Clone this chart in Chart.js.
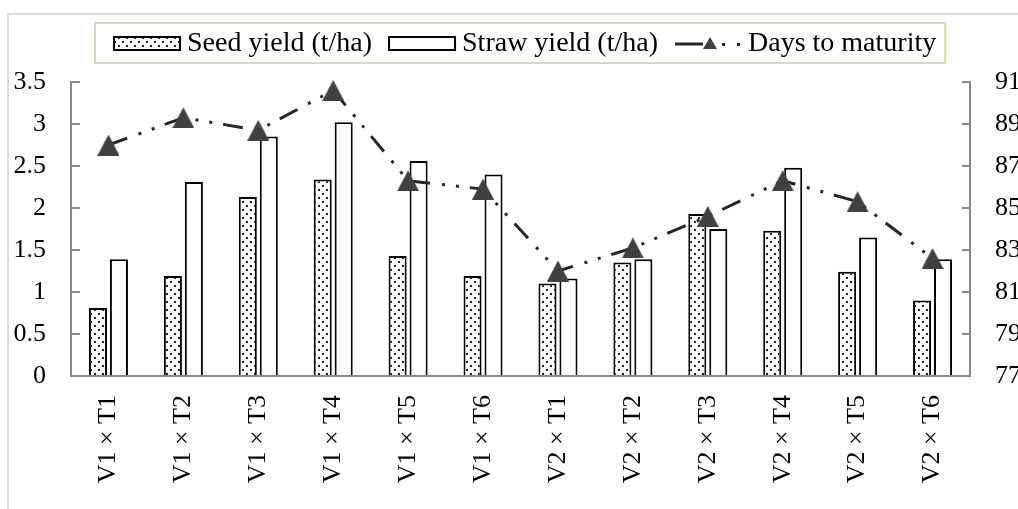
<!DOCTYPE html>
<html>
<head>
<meta charset="utf-8">
<script src="https://cdn.jsdelivr.net/npm/chart.js@4.4.1/dist/chart.umd.min.js"></script>
<style>
  html, body { margin: 0; padding: 0; background: #fff; overflow: hidden; }
  #wrap { position: relative; width: 1018px; height: 509px; overflow: hidden; }
  canvas { position: absolute; left: 0; top: 0; }
</style>
</head>
<body>
<div id="wrap"><canvas id="yieldChart" width="1040" height="509"></canvas></div>
<script>
  // data
  const categories = ['V1 × T1', 'V1 × T2', 'V1 × T3', 'V1 × T4', 'V1 × T5', 'V1 × T6',
                      'V2 × T1', 'V2 × T2', 'V2 × T3', 'V2 × T4', 'V2 × T5', 'V2 × T6'];
  const seedYield  = [0.81, 1.19, 2.13, 2.34, 1.43, 1.19, 1.10, 1.35, 1.93, 1.73, 1.24, 0.90];
  const strawYield = [1.39, 2.31, 2.85, 3.02, 2.56, 2.40, 1.16, 1.39, 1.75, 2.48, 1.65, 1.39];
  const daysToMaturity = [88.0, 89.3, 88.7, 90.6, 86.3, 85.9, 82.0, 83.1, 84.6, 86.3, 85.3, 82.6];
  const leftTicks  = [0, 0.5, 1, 1.5, 2, 2.5, 3, 3.5];
  const rightTicks = [77, 79, 81, 83, 85, 87, 89, 91];

  const serif = '"Liberation Serif", "Times New Roman", serif';
  const axisGrey = '#898989';

  // dotted fill for seed bars
  const pc = document.createElement('canvas');
  pc.width = 8; pc.height = 8;
  const pctx = pc.getContext('2d');
  pctx.fillStyle = '#fff';
  pctx.fillRect(0, 0, 8, 8);
  pctx.fillStyle = '#222';
  pctx.fillRect(2, 1, 2, 2);
  pctx.fillRect(6, 5, 2, 2);
  const ctx = document.getElementById('yieldChart').getContext('2d');
  const dots = ctx.createPattern(pc, 'repeat');

  // triangle marker, centred on its box like the original
  const tri = document.createElement('canvas');
  tri.width = 22; tri.height = 21;
  const tctx = tri.getContext('2d');
  tctx.fillStyle = '#404040';
  tctx.beginPath();
  tctx.moveTo(11, 0); tctx.lineTo(22, 21); tctx.lineTo(0, 21);
  tctx.closePath();
  tctx.fill();

  const lineDash = [20, 12, 3, 11, 3, 11];

  // light frame around the figure
  const frame = {
    id: 'frame',
    beforeDraw(chart) {
      const c = chart.ctx;
      c.save();
      c.strokeStyle = '#d9d9d9';
      c.lineWidth = 2;
      c.beginPath();
      c.moveTo(7, 14); c.lineTo(chart.width, 14);
      c.moveTo(8, 14); c.lineTo(8, chart.height);
      c.stroke();
      c.restore();
    }
  };

  // boxed legend on top
  const legendBox = {
    id: 'legendBox',
    afterDraw(chart) {
      const c = chart.ctx;
      c.save();
      c.font = '28px ' + serif;
      c.textBaseline = 'middle';
      const labels = chart.data.datasets.map(d => d.label);
      // legend order: seed, straw, days
      const order = [1, 2, 0];
      const symW = 66, gap = 7, itemGap = 17, padL = 19, padR = 9;
      let total = padL + padR + itemGap * 2;
      order.forEach(i => { total += symW + gap + c.measureText(labels[i]).width; });
      const cx = (chart.chartArea.left + chart.chartArea.right) / 2;
      const left = Math.round(cx - total / 2);
      const top = 23, h = 40, cy = top + h / 2;

      c.strokeStyle = '#d9d6c3';
      c.lineWidth = 2;
      c.strokeRect(left, top, total, h);

      let x = left + padL;
      order.forEach(i => {
        if (i === 1 || i === 2) {
          c.fillStyle = i === 1 ? dots : '#fff';
          c.fillRect(x, cy - 6, symW, 13);
          c.strokeStyle = '#000';
          c.lineWidth = 2;
          c.strokeRect(x, cy - 6, symW, 13);
        } else {
          c.strokeStyle = '#262626';
          c.lineWidth = 3;
          c.beginPath();
          c.moveTo(x, cy + 1); c.lineTo(x + 28, cy + 1);
          c.stroke();
          c.fillStyle = '#404040';
          c.beginPath();
          c.moveTo(x + 35, cy - 6);
          c.lineTo(x + 42, cy + 6);
          c.lineTo(x + 28, cy + 6);
          c.closePath();
          c.fill();
          c.fillStyle = '#262626';
          c.fillRect(x + 47, cy, 3, 3);
          c.fillRect(x + 62, cy, 3, 3);
        }
        x += symW + gap;
        c.fillStyle = '#000';
        c.textAlign = 'left';
        c.fillText(labels[i], x, cy + 1);
        x += c.measureText(labels[i]).width + itemGap;
      });
      c.restore();
    }
  };

  const config = {
    type: 'bar',
    data: {
      labels: categories,
      datasets: [
        {
          type: 'line',
          label: 'Days to maturity',
          data: daysToMaturity,
          yAxisID: 'y1',
          borderColor: '#262626',
          borderWidth: 3,
          borderDash: lineDash,
          tension: 0,
          fill: false,
          clip: false,
          pointStyle: tri,
          pointRadius: 11,
          order: 0
        },
        {
          label: 'Seed yield (t/ha)',
          data: seedYield,
          yAxisID: 'y',
          backgroundColor: dots,
          borderColor: '#000',
          borderWidth: 2,
          categoryPercentage: 0.56,
          barPercentage: 0.86,
          order: 1
        },
        {
          label: 'Straw yield (t/ha)',
          data: strawYield,
          yAxisID: 'y',
          backgroundColor: '#fff',
          borderColor: '#000',
          borderWidth: 2,
          categoryPercentage: 0.56,
          barPercentage: 0.86,
          order: 1
        }
      ]
    },
    options: {
      responsive: false,
      animation: false,
      layout: { padding: { top: 82, left: 0, right: 0, bottom: 0 } },
      scales: {
        x: {
          offset: true,
          grid: { display: false, drawTicks: false },
          border: { color: axisGrey, width: 2 },
          ticks: {
            font: { family: serif, size: 26 },
            color: '#000',
            minRotation: 90,
            maxRotation: 90,
            autoSkip: false,
            padding: 19
          },
          afterFit: s => { s.height = 133; }
        },
        y: {
          position: 'left',
          min: 0,
          max: 3.5,
          afterBuildTicks: s => { s.ticks = leftTicks.map(v => ({ value: v })); },
          grid: { drawOnChartArea: false, tickLength: -9, color: axisGrey, lineWidth: 2 },
          border: { color: axisGrey, width: 2 },
          ticks: {
            font: { family: serif, size: 26 },
            color: '#000',
            padding: 34,
            callback: v => String(v)
          },
          afterFit: s => { s.width = 71; }
        },
        y1: {
          position: 'right',
          min: 77,
          max: 91,
          afterBuildTicks: s => { s.ticks = rightTicks.map(v => ({ value: v })); },
          grid: { drawOnChartArea: false, tickLength: -8, color: axisGrey, lineWidth: 2 },
          border: { color: axisGrey, width: 2 },
          ticks: {
            font: { family: serif, size: 26 },
            color: '#000',
            padding: 33,
            callback: v => String(v)
          },
          afterFit: s => { s.width = 70; }
        }
      },
      plugins: {
        legend: { display: false },
        tooltip: { enabled: false }
      }
    },
    plugins: [frame, legendBox]
  };

  new Chart(ctx, config);
</script>
</body>
</html>
